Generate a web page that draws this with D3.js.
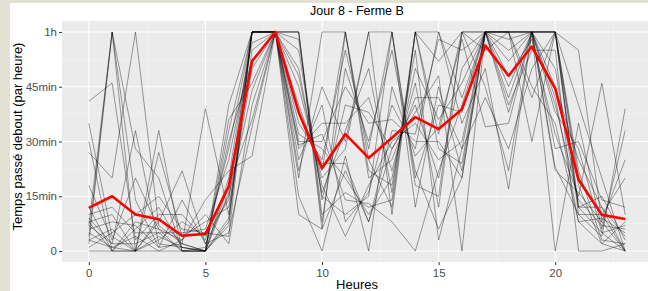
<!DOCTYPE html>
<html>
<head>
<meta charset="utf-8">
<script src="https://cdn.jsdelivr.net/npm/d3@7"></script>
<style>
body { margin: 0; background: #e3e0d4; }
text { font-family: "Liberation Sans", Arial, sans-serif; }
</style>
</head>
<body>
<script>
var width = 648;
var height = 291;

// heures 0..23
var heures = d3.range(0, 24);

// minutes debout par heure, une ligne par vache
var vache01 = [41, 46, 3, 10, 10, 3, 28, 60, 60, 50, 16, 33, 50, 16, 60, 32, 60, 60, 55, 60, 38, 28, 5, 7];
var vache02 = [35, 4, 0, 9, 2, 0, 20, 60, 60, 15, 0, 26, 0, 45, 26, 34, 58, 34, 35, 60, 45, 25, 12, 4];
var vache03 = [30, 0, 0, 8, 22, 2, 15, 44, 60, 32, 28, 20, 10, 20, 50, 36, 46, 60, 60, 42, 60, 22, 3, 2];
var vache04 = [27, 20, 60, 7, 2, 39, 10, 60, 60, 55, 15, 10, 15, 60, 20, 40, 38, 60, 52, 60, 60, 20, 10, 0];
var vache05 = [18, 3, 20, 6, 0, 0, 7, 60, 60, 20, 60, 60, 20, 25, 42, 42, 28, 42, 28, 50, 60, 18, 2, 0];
var vache06 = [12, 0, 8, 6, 3, 10, 2, 40, 60, 35, 25, 55, 28, 60, 12, 45, 22, 60, 60, 60, 22, 16, 8, 25];
var vache07 = [10, 12, 5, 5, 0, 0, 33, 60, 60, 58, 14, 40, 38, 28, 38, 48, 0, 60, 48, 58, 32, 15, 46, 10];
var vache08 = [9, 2, 2, 5, 5, 6, 25, 57, 60, 22, 45, 30, 60, 10, 60, 52, 60, 45, 22, 60, 40, 14, 7, 6];
var vache09 = [8, 0, 0, 4, 1, 0, 18, 36, 60, 38, 24, 24, 8, 33, 32, 58, 55, 60, 60, 60, 50, 12, 15, 3];
var vache10 = [8, 10, 0, 3, 8, 4, 14, 60, 60, 60, 10, 16, 12, 14, 60, 60, 42, 60, 45, 60, 60, 12, 5, 0];
var vache11 = [7, 2, 33, 2, 1, 0, 9, 55, 60, 25, 40, 8, 16, 40, 28, 60, 35, 50, 17, 60, 60, 12, 12, 0];
var vache12 = [7, 60, 14, 1, 14, 2, 5, 34, 60, 40, 22, 60, 22, 18, 55, 3, 28, 60, 60, 30, 60, 10, 4, 39];
var vache13 = [6, 8, 7, 1, 2, 0, 40, 60, 60, 60, 8, 50, 30, 55, 22, 6, 20, 60, 42, 60, 23, 10, 10, 20];
var vache14 = [5, 1, 4, 0, 0, 1, 30, 52, 60, 28, 35, 35, 42, 22, 46, 12, 60, 55, 60, 45, 35, 8, 2, 8];
var vache15 = [4, 60, 0, 0, 3, 14, 22, 26, 60, 45, 20, 28, 60, 60, 18, 15, 60, 60, 60, 60, 42, 8, 9, 5];
var vache16 = [3, 6, 0, 33, 0, 0, 16, 60, 60, 60, 6, 22, 8, 28, 40, 20, 50, 60, 40, 55, 55, 0, 0, 2];
var vache17 = [3, 1, 0, 27, 4, 8, 12, 50, 60, 29, 32, 14, 13, 8, 0, 22, 40, 60, 60, 60, 60, 55, 8, 0];
var vache18 = [2, 60, 28, 20, 0, 0, 8, 60, 60, 48, 18, 4, 18, 30, 35, 25, 30, 60, 58, 60, 60, 40, 20, 0];
var vache19 = [1, 5, 10, 15, 6, 5, 4, 60, 60, 10, 6, 60, 25, 12, 60, 28, 24, 60, 38, 60, 0, 35, 6, 33];
var vache20 = [0, 0, 6, 12, 1, 0, 36, 46, 60, 30, 30, 45, 35, 36, 30, 30, 20, 60, 60, 60, 28, 30, 14, 12];

// moyenne du troupeau (ligne rouge)
var moyenne = [11.8, 15, 10, 8.7, 4.2, 4.7, 17.7, 52, 60, 38, 22.7, 32, 25.5, 31, 36.7, 33.4, 38.8, 56.3, 48, 56, 44.5, 19.5, 9.9, 8.8];

var xTicks = [0, 5, 10, 15, 20];
var yTicks = [0, 15, 30, 45, 60];
var yLabels = ["0", "15min", "30min", "45min", "1h"];

var vaches = [vache01, vache02, vache03, vache04, vache05, vache06, vache07, vache08, vache09, vache10,
    vache11, vache12, vache13, vache14, vache15, vache16, vache17, vache18, vache19, vache20];

var panel = {left: 62, right: 652, top: 21, bottom: 262};

var canvas = d3.select("body")
    .append("svg")
    .attr("width", width)
    .attr("height", height)
    .style("display", "block");

// fond blanc du graphique (cadre beige autour)
canvas.append("rect")
    .attr("x", 10)
    .attr("y", 3)
    .attr("width", width - 10)
    .attr("height", height - 3)
    .attr("fill", "white");

var x = d3.scaleLinear()
    .domain([-1.15, 24.15])
    .range([panel.left, panel.right]);

var y = d3.scaleLinear()
    .domain([-3, 63])
    .range([panel.bottom, panel.top]);

canvas.append("rect")
    .attr("x", panel.left)
    .attr("y", panel.top)
    .attr("width", panel.right - panel.left)
    .attr("height", panel.bottom - panel.top)
    .attr("fill", "#ebebeb");

// grille mineure
var xMinor = [2.5, 7.5, 12.5, 17.5, 22.5];
var yMinor = [7.5, 22.5, 37.5, 52.5];

canvas.selectAll(".xminor")
    .data(xMinor)
    .enter().append("line")
    .attr("x1", function(d) { return x(d); })
    .attr("x2", function(d) { return x(d); })
    .attr("y1", panel.top)
    .attr("y2", panel.bottom)
    .attr("stroke", "#f5f5f5")
    .attr("stroke-width", 0.6);

canvas.selectAll(".yminor")
    .data(yMinor)
    .enter().append("line")
    .attr("x1", panel.left)
    .attr("x2", panel.right)
    .attr("y1", function(d) { return y(d); })
    .attr("y2", function(d) { return y(d); })
    .attr("stroke", "#f5f5f5")
    .attr("stroke-width", 0.6);

// grille majeure
canvas.selectAll(".xmajor")
    .data(xTicks)
    .enter().append("line")
    .attr("x1", function(d) { return x(d); })
    .attr("x2", function(d) { return x(d); })
    .attr("y1", panel.top)
    .attr("y2", panel.bottom)
    .attr("stroke", "white")
    .attr("stroke-width", 1.1);

canvas.selectAll(".ymajor")
    .data(yTicks)
    .enter().append("line")
    .attr("x1", panel.left)
    .attr("x2", panel.right)
    .attr("y1", function(d) { return y(d); })
    .attr("y2", function(d) { return y(d); })
    .attr("stroke", "white")
    .attr("stroke-width", 1.1);

var line = d3.line()
    .x(function(d, i) { return x(heures[i]); })
    .y(function(d) { return y(d); });

canvas.selectAll(".vache")
    .data(vaches)
    .enter().append("path")
    .attr("class", "vache")
    .attr("d", line)
    .attr("fill", "none")
    .attr("stroke", "black")
    .attr("stroke-opacity", 0.42)
    .attr("stroke-width", 0.9);

canvas.append("path")
    .datum(moyenne)
    .attr("d", line)
    .attr("fill", "none")
    .attr("stroke", "#ff0000")
    .attr("stroke-width", 2.6)
    .attr("stroke-linejoin", "round");

// axes
var xAxis = d3.axisBottom(x)
    .tickValues(xTicks)
    .tickSize(3)
    .tickPadding(4);

var yAxis = d3.axisLeft(y)
    .tickValues(yTicks)
    .tickFormat(function(d, i) { return yLabels[i]; })
    .tickSize(3)
    .tickPadding(2);

var gx = canvas.append("g")
    .attr("transform", "translate(0," + panel.bottom + ")")
    .call(xAxis);

var gy = canvas.append("g")
    .attr("transform", "translate(" + panel.left + ",0)")
    .call(yAxis);

[gx, gy].forEach(function(g) {
    g.select(".domain").remove();
    g.selectAll(".tick line").attr("stroke", "#333333");
    g.selectAll(".tick text")
        .attr("fill", "#4d4d4d")
        .style("font-size", "11.5px")
        .style("font-family", "'Liberation Sans', Arial, sans-serif");
});

canvas.append("text")
    .attr("x", (panel.left + panel.right) / 2)
    .attr("y", 15)
    .attr("text-anchor", "middle")
    .style("font-size", "12.5px")
    .text("Jour 8 - Ferme B");

canvas.append("text")
    .attr("x", (panel.left + panel.right) / 2)
    .attr("y", 289)
    .attr("text-anchor", "middle")
    .style("font-size", "13px")
    .text("Heures");

canvas.append("text")
    .attr("transform", "translate(22," + ((panel.top + panel.bottom) / 2 - 5) + ") rotate(-90)")
    .attr("text-anchor", "middle")
    .style("font-size", "13px")
    .text("Temps passé debout (par heure)");
</script>
</body>
</html>
